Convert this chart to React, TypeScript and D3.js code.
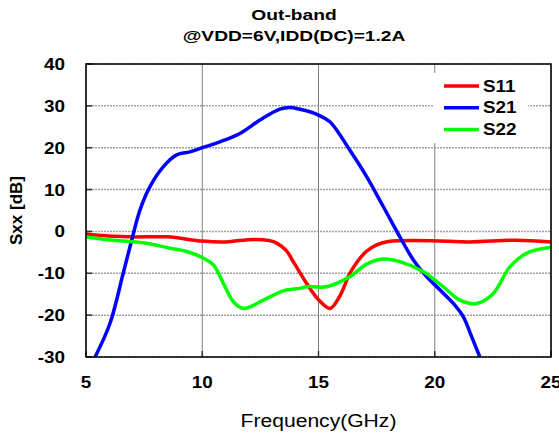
import React from "react";
import * as d3 from "d3";

const titleLines = ["Out-band", "@VDD=6V,IDD(DC)=1.2A"];
const xTicks = [5, 10, 15, 20, 25];
const yTicks = [40, 30, 20, 10, 0, -10, -20, -30];
const seriesNames = ["S11", "S21", "S22"];
const seriesColors = ["#ff0000", "#0000ff", "#00ff00"];

const s11Freq = [5.0, 5.5, 6.9, 8.5, 10.0, 11.0, 12.2, 12.9, 13.2, 13.6, 14.0, 14.5, 15.0, 15.5, 15.9, 16.35, 16.7, 17.05, 17.5, 18.0, 18.5, 19.9, 21.5, 23.5, 25];
const s11Db = [-0.6, -0.9, -1.3, -1.3, -2.3, -2.5, -1.9, -2.2, -2.8, -4.5, -8.0, -12.5, -16.3, -18.4, -15.6, -10, -7.0, -4.8, -3.2, -2.4, -2.2, -2.2, -2.5, -2.1, -2.5];

const s21Freq = [5.39, 6.03, 6.6, 6.97, 7.32, 7.75, 8.33, 8.9, 9.47, 10.0, 10.76, 11.62, 12.48, 13.34, 13.77, 14.2, 14.63, 15.0, 15.49, 16.35, 17.07, 17.79, 18.5, 19.08, 19.65, 20.23, 20.8, 21.23, 21.59, 21.94];
const s21Db = [-30, -22, -10, -2, 5.1, 10.7, 15.5, 18.3, 19.0, 20.0, 21.4, 23.4, 26.6, 29.2, 29.6, 29.2, 28.6, 27.8, 26.2, 19.4, 13.1, 5.9, -1.3, -6.8, -10.8, -14, -17.2, -20.4, -25.2, -30];

const s22Freq = [5.0, 6.17, 7.6, 8.6, 9.33, 10.05, 10.48, 10.91, 11.34, 11.77, 12.63, 13.49, 14.2, 14.49, 15.35, 16.35, 17.07, 17.79, 18.5, 19.5, 20.36, 21.08, 21.8, 22.52, 23.24, 23.96, 25.0];
const s22Db = [-1.3, -2.1, -2.8, -4, -4.8, -6.4, -8, -12.4, -16.8, -18.4, -16.4, -14.2, -13.6, -13.2, -13.2, -10.8, -7.8, -6.6, -7.2, -9.6, -13.2, -16.4, -17.2, -14.8, -8.4, -5.2, -3.8];

const W = 559;
const H = 437;
const M = { left: 86, right: 551, top: 64, bottom: 357 };
const FONT = "'Liberation Sans', Arial, sans-serif";

type STextProps = {
  x: number;
  y: number;
  sx?: number;
  size: number;
  bold?: boolean;
  anchor?: "start" | "middle" | "end";
  children: React.ReactNode;
};

function SText({ x, y, sx = 1.15, size, bold = true, anchor = "start", children }: STextProps) {
  return (
    <g transform={`translate(${x},${y}) scale(${sx},1)`}>
      <text x={0} y={0} textAnchor={anchor} fontWeight={bold ? "bold" : "normal"} fontSize={size}>
        {children}
      </text>
    </g>
  );
}

export default function App() {
  const x = d3.scaleLinear().domain([5, 25]).range([M.left, M.right]);
  const y = d3.scaleLinear().domain([-30, 40]).range([M.bottom, M.top]);
  const line = d3
    .line<[number, number]>()
    .x((d) => x(d[0]))
    .y((d) => y(d[1]))
    .curve(d3.curveCatmullRom.alpha(0.5));

  const series = [
    s11Freq.map((f, i) => [f, s11Db[i]] as [number, number]),
    s21Freq.map((f, i) => [f, s21Db[i]] as [number, number]),
    s22Freq.map((f, i) => [f, s22Db[i]] as [number, number]),
  ];

  const leg = { x: 433, y: 73, w: 95, h: 70 };

  return (
    <svg
      width={W}
      height={H}
      style={{ position: "absolute", left: 0, top: 0, background: "#fff" }}
      fontFamily={FONT}
    >
      <defs>
        <clipPath id="plotclip">
          <rect x={M.left} y={M.top} width={M.right - M.left} height={M.bottom - M.top} />
        </clipPath>
      </defs>
      <rect x={0} y={0} width={W} height={H} fill="#fff" />
      {titleLines.map((t, i) => (
        <SText key={t} x={294} y={20 + i * 21} anchor="middle" size={15} sx={1.28}>
          {t}
        </SText>
      ))}
      {/* horizontal grid */}
      {yTicks.map((t) => (
        <line
          key={"hg" + t}
          x1={M.left}
          x2={M.right}
          y1={y(t)}
          y2={y(t)}
          stroke="#a0a0a0"
          strokeWidth={1.5}
          strokeDasharray="2,1"
        />
      ))}
      {/* vertical grid */}
      {xTicks.map((t) => (
        <line key={"vg" + t} x1={x(t)} x2={x(t)} y1={M.top} y2={M.bottom} stroke="#808080" strokeWidth={1} />
      ))}
      {/* legend background */}
      <rect x={leg.x} y={leg.y} width={leg.w} height={leg.h} fill="#fff" />
      {/* tick marks */}
      {yTicks.map((t) => (
        <line key={"yt" + t} x1={M.left} x2={M.left + 6} y1={y(t)} y2={y(t)} stroke="#333" strokeWidth={1.5} />
      ))}
      {xTicks.map((t) => (
        <line key={"xt" + t} x1={x(t)} x2={x(t)} y1={M.bottom} y2={M.bottom - 6} stroke="#333" strokeWidth={1.5} />
      ))}
      {/* series */}
      <g clipPath="url(#plotclip)">
        {series.map((s, i) => (
          <path key={seriesNames[i]} d={line(s) || ""} fill="none" stroke={seriesColors[i]} strokeWidth={3.5} strokeLinejoin="round" />
        ))}
      </g>
      {/* frame */}
      <rect
        x={M.left}
        y={M.top}
        width={M.right - M.left}
        height={M.bottom - M.top}
        fill="none"
        stroke="#000"
        strokeWidth={1.5}
      />
      {/* legend */}
      {seriesNames.map((n, i) => (
        <g key={"lg" + n}>
          <line x1={444} x2={479} y1={86 + i * 21.8} y2={86 + i * 21.8} stroke={seriesColors[i]} strokeWidth={3.5} />
          <SText x={483} y={86 + i * 21.8 + 5.5} size={16} sx={1.18}>
            {n}
          </SText>
        </g>
      ))}
      {/* y tick labels */}
      {yTicks.map((t) => (
        <SText key={"yl" + t} x={65} y={y(t) + 6} anchor="end" size={16} sx={1.18}>
          {t}
        </SText>
      ))}
      {/* x tick labels */}
      {xTicks.map((t) => (
        <SText key={"xl" + t} x={x(t)} y={388} anchor="middle" size={16} sx={1.18}>
          {t}
        </SText>
      ))}
      <text
        transform={`translate(22, ${(M.top + M.bottom) / 2}) rotate(-90)`}
        textAnchor="middle"
        fontWeight="bold"
        fontSize={17}
      >
        Sxx [dB]
      </text>
      <SText x={(M.left + M.right) / 2} y={427} anchor="middle" size={18.5} sx={1.14} bold={false}>
        Frequency(GHz)
      </SText>
    </svg>
  );
}
